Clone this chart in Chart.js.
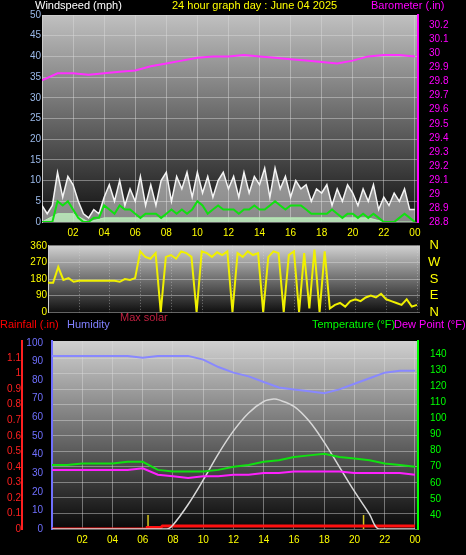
<!DOCTYPE html>
<html>
<head>
<meta charset="utf-8">
<script src="https://cdn.jsdelivr.net/npm/chart.js@4/dist/chart.umd.min.js"></script>
<style>
  body { margin: 0; background: #000; width: 466px; height: 555px; overflow: hidden; position: relative; font-family: "Liberation Sans", Arial, sans-serif; }
  canvas { position: absolute; left: 0; }
  .lbl { position: absolute; font-size: 11px; white-space: nowrap; z-index: 2; }
</style>
</head>
<body>
<div class="lbl" style="left:35px;top:-1px;color:#fff">Windspeed (mph)</div>
<div class="lbl" style="left:172px;top:-1px;color:#ff0">24 hour graph day : June 04 2025</div>
<div class="lbl" style="left:371px;top:-1px;color:#f0f">Barometer (.in)</div>
<div class="lbl" style="left:0;top:318px;color:#f00">Rainfall (.in)</div>
<div class="lbl" style="left:67px;top:318px;color:#8080ff">Humidity</div>
<div class="lbl" style="left:120px;top:311px;color:#c02040">Max solar</div>
<div class="lbl" style="left:312px;top:318px;color:#0f0">Temperature (°F)</div>
<div class="lbl" style="left:394px;top:318px;color:#f0f">Dew Point (°F)</div>
<canvas id="top" width="466" height="240" style="top:6px"></canvas>
<canvas id="mid" width="466" height="82" style="top:238px"></canvas>
<canvas id="bot" width="466" height="224" style="top:331px"></canvas>
<script>
// hourly samples, hour 0..24
var barometer = [29.81,29.86,29.86,29.85,29.86,29.87,29.88,29.91,29.93,29.95,29.97,29.98,29.98,29.99,29.98,29.97,29.96,29.95,29.94,29.93,29.95,29.98,29.99,29.99,29.98];
// 20-minute samples
var windGust = [4,2,4, 12,6,11, 9,5,2, 1,3,2, 6,9,5, 10,4,8, 5,11,4, 9,4,10, 12,5,11, 8,12,6,
  12,7,11, 6,10,12, 8,11,6, 12,7,11, 9,13,6, 13,8,11, 6,10,8, 9,5,8, 7,9,4, 8,5,9,
  7,4,8, 5,9,3, 6,4,7, 5,8,3, 3];
var windAvg = [0,0,0, 5,4,5, 3,1,0, 0,1,1, 4,3,2, 4,3,3, 2,1,2, 2,2,1, 2,3,2, 3,2,3,
  5,4,2, 3,4,3, 3,3,2, 3,3,4, 3,3,4, 5,4,3, 4,4,4, 3,2,2, 2,2,3, 2,1,2,
  2,1,2, 1,2,1, 0,0,0, 1,2,1, 0];
var windLull = [0,2,2,0,1,1,1,1,1,1,1,1,1,1,1,1,1,1,1,1,1,1,0,0,0];
var windDir = [160,160,245, 175,185,165, 170,170,170, 170,170,170, 170,170,165, 180,175,185,
  330,300,290, 320,0,300, 310,290,330, 320,300,0, 330,320,300, 325,310,330, 0,320,300,
  330,310,320, 0,300,330, 320,0,310, 330,0,320, 20,340,0, 330,20,40, 50,30,60,
  70,60,80, 90,80,100, 70,60,50, 40,70,30, 40];
var humidity = [93,93,93,93,93,93,92,93,93,93,91,87,84,82,79,76,75,74,73,75,78,81,84,85,85];
var temperature = [71,71,72,72,72,73,73,68,67,67,67,68,70,71,73,74,76,77,78,76,75,74,72,71,70];
var dewPoint = [68,68,68,68,68,68,69,65,64,63,64,64,65,65,66,66,67,67,67,67,66,66,66,66,65];
var solarHours = [0,7.6,8,9,10,11,12,13,14,14.7,15,16,17,18,19,20,21,21.6,24];
var maxSolar = [0,0,25,150,300,460,600,710,780,795,790,750,660,530,380,230,90,0,0];
var rainHours = [0,6.3,6.3,7.2,7.3,24];
var rainfall = [0,0,0.01,0.01,0.02,0.02];
var sunMarks = [6.35, 20.6];
var hourTicks = [2,4,6,8,10,12,14,16,18,20,22,24];
var windTicks = [0,5,10,15,20,25,30,35,40,45,50];
var baroTicks = [28.8,28.9,29,29.1,29.2,29.3,29.4,29.5,29.6,29.7,29.8,29.9,30,30.1,30.2];
var dirTicks = [0,90,180,270,360];
var dirNames = ['N','E','S','W','N'];
var humTicks = [0,10,20,30,40,50,60,70,80,90,100];
var rainTicks = [0,0.1,0.2,0.3,0.4,0.5,0.6,0.7,0.8,0.9,1,1.1];
var tempTicks = [40,50,60,70,80,90,100,110,120,130,140];

function series(arr, step) { return arr.map(function (v, i) { return {x: i * step, y: v}; }); }
function pairs(xs, ys) { return xs.map(function (x, i) { return {x: x, y: ys[i]}; }); }
function pad(v) { v = v % 24; return (v < 10 ? '0' : '') + v; }
function setTicks(list) { return function (s) { s.ticks = list.map(function (v) { return {value: v}; }); }; }
function fixW(w) { return function (s) { s.width = w; }; }

var font = {family: 'Liberation Sans', size: 10};
var grid = {color: 'rgba(220,220,220,0.45)', borderDash: [1, 2], drawTicks: false};

var bgPlugin = {
  id: 'bg',
  beforeDraw: function (chart, args, opts) {
    var a = chart.chartArea, c = chart.ctx;
    var g = c.createLinearGradient(0, a.top, 0, a.bottom);
    g.addColorStop(0, opts.top || '#c4c4c4');
    g.addColorStop(1, opts.bottom || '#080808');
    c.save();
    c.fillStyle = '#000';
    c.fillRect(0, 0, chart.width, chart.height);
    c.fillStyle = g;
    c.fillRect(a.left, a.top, a.right - a.left, a.bottom - a.top);
    // vertical hour grid for charts whose x axis is hidden
    if (opts.vgrid) {
      var xs = chart.scales.x;
      c.strokeStyle = 'rgba(220,220,220,0.45)';
      c.setLineDash([1, 2]);
      c.lineWidth = 1;
      hourTicks.forEach(function (h) {
        var px = Math.round(xs.getPixelForValue(h)) + 0.5;
        c.beginPath(); c.moveTo(px, a.top); c.lineTo(px, a.bottom); c.stroke();
      });
    }
    c.restore();
  }
};

function xAxis(show) {
  return {
    type: 'linear', min: 0, max: 24.2, display: show,
    afterBuildTicks: setTicks(hourTicks),
    afterFit: function (s) { s.height = show ? 16 : 0; },
    grid: grid, border: {display: false},
    ticks: {autoSkip: false, maxRotation: 0, color: '#ff0', font: font, padding: 5,
      callback: function (v) { return pad(v); }}
  };
}

function yAxis(pos, min, max, list, width, color, extra) {
  var ax = {position: pos, min: min, max: max, afterFit: fixW(width),
    afterBuildTicks: setTicks(list), grid: {display: false},
    border: {color: color, width: 2},
    ticks: {autoSkip: false, color: color, font: font, padding: 1}};
  for (var k in extra) ax[k] = extra[k];
  return ax;
}

function base(datasets, scales, padding, bg) {
  return {
    type: 'line',
    data: {datasets: datasets},
    options: {
      responsive: false, animation: false,
      layout: {padding: padding},
      elements: {point: {radius: 0}, line: {tension: 0}},
      plugins: {legend: {display: false}, tooltip: {enabled: false}, bg: bg || {}},
      scales: scales
    },
    plugins: [bgPlugin]
  };
}

new Chart(document.getElementById('top'), base([
  {data: series(barometer, 1), borderColor: '#ff30ff', borderWidth: 2, yAxisID: 'baro'},
  {data: series(windAvg, 1 / 3), borderColor: '#10e010', borderWidth: 2, yAxisID: 'y'},
  {data: series(windLull, 1), borderColor: '#b8f0b8', backgroundColor: 'rgba(190,240,190,0.8)', fill: 'origin', borderWidth: 1, yAxisID: 'y'},
  {data: series(windGust, 1 / 3), borderColor: '#f4f4f4', backgroundColor: 'rgba(235,235,235,0.55)', fill: 'origin', borderWidth: 1.5, yAxisID: 'y'}
], {
  x: xAxis(true),
  y: yAxis('left', 0, 50, windTicks, 42, '#9ab8e8', {grid: grid, border: {color: '#ccc'}}),
  baro: yAxis('right', 28.8, 30.275, baroTicks, 48, '#f0f', {ticks: {autoSkip: false, color: '#f0f', font: font, padding: 3,
    callback: function (v) { return +v.toFixed(1); }}})
}, {top: 0, bottom: 8}, {top: '#c0c0c0', bottom: '#101010'}));

new Chart(document.getElementById('mid'), base([
  {data: series(windDir, 1 / 3), borderColor: '#f0f000', borderWidth: 2}
], {
  x: xAxis(false),
  y: yAxis('left', 0, 360, dirTicks, 48, '#ff0', {grid: grid, border: {color: '#ccc'}}),
  dir: yAxis('right', 0, 360, dirTicks, 46, '#ff0', {border: {display: false},
    ticks: {autoSkip: false, color: '#ff0', font: {family: 'Liberation Sans', size: 13}, padding: 0,
      crossAlign: 'center', callback: function (v) { return dirNames[dirTicks.indexOf(v)]; }}})
}, {top: 0, bottom: 0}, {top: '#d0d0d0', bottom: '#101010', vgrid: true}));

var markSets = sunMarks.map(function (h) {
  return {data: [{x: h, y: 0}, {x: h, y: 0.09}], borderColor: '#d8c820', borderWidth: 1.5, yAxisID: 'rain'};
});

new Chart(document.getElementById('bot'), base([
  {data: series(humidity, 1), borderColor: '#8888ff', borderWidth: 2, yAxisID: 'hum'},
  {data: series(temperature, 1), borderColor: '#10e010', borderWidth: 2, yAxisID: 'temp'},
  {data: series(dewPoint, 1), borderColor: '#ff20ff', borderWidth: 2, yAxisID: 'temp'},
  {data: pairs(solarHours, maxSolar), borderColor: '#d8d8d8', borderWidth: 1.5, tension: 0.35, yAxisID: 'solar'},
  {data: pairs(rainHours, rainfall), borderColor: '#ff1010', borderWidth: 3, yAxisID: 'rain'}
].concat(markSets), {
  x: xAxis(true),
  hum: yAxis('left', 0, 101, humTicks, 30, '#7070ff', {}),
  rain: yAxis('left', 0, 1.21, rainTicks, 22, '#ff2020', {grid: grid,
    ticks: {autoSkip: false, color: '#ff2020', font: font, padding: 1,
      callback: function (v) { return +v.toFixed(1); }}}),
  temp: yAxis('right', 31.3, 148, tempTicks, 48, '#0f0', {ticks: {autoSkip: false, color: '#0f0', font: font, padding: 4}})
  , solar: {display: false, min: 0, max: 1150}
}, {top: 0, bottom: 10}, {top: '#d0d0d0', bottom: '#080808'}));
</script>
</body>
</html>
